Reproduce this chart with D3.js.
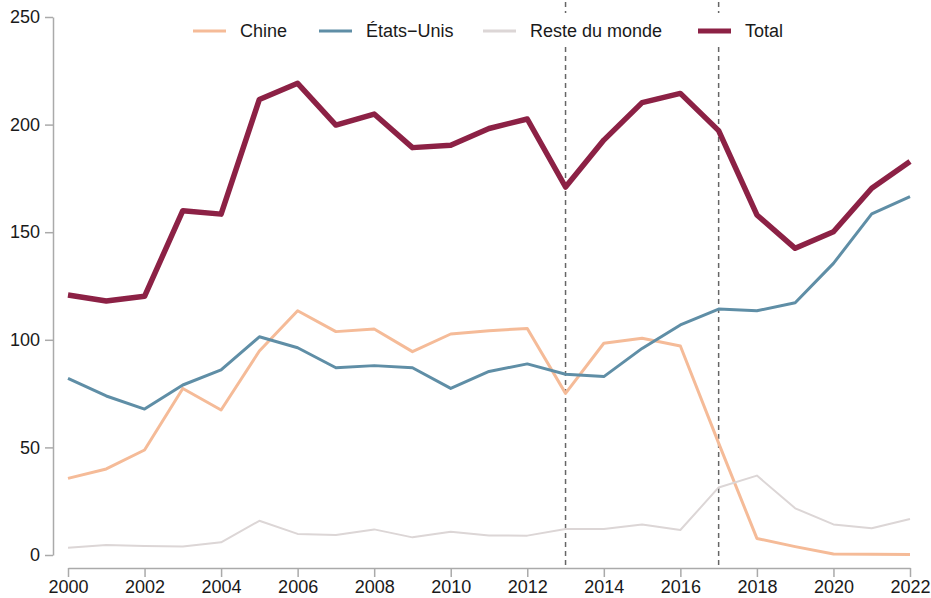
<!DOCTYPE html>
<html>
<head>
<meta charset="utf-8">
<script src="https://cdn.jsdelivr.net/npm/d3@7"></script>
<style>
  body { margin: 0; background: #fff; }
  text { font-family: "Liberation Sans", Arial, sans-serif; fill: #1a1a1a; }
</style>
</head>
<body>
<div class="chart"></div>
<script>
const years = d3.range(2000, 2023);
const chine = [35.6, 40, 48.8, 77.4, 67.4, 94.8, 113.5, 103.8, 105, 94.5, 102.7, 104.2, 105.3, 75.1, 98.4, 100.7, 97.1, 52, 7.7, 3.9, 0.5, 0.3, 0.2];
const etatsUnis = [82.1, 73.9, 67.8, 79, 86, 101.4, 96.3, 87, 88, 87, 77.4, 85.3, 88.8, 84, 82.9, 96, 106.9, 114.3, 113.5, 117.2, 135.5, 158.5, 166.5];
const reste = [3.4, 4.6, 4.2, 3.9, 5.9, 15.9, 9.8, 9.3, 11.9, 8.2, 10.8, 9.1, 9, 12.1, 12.1, 14.2, 11.6, 31.4, 36.9, 21.7, 14.2, 12.4, 16.7];
const total = [120.8, 118, 120.2, 160, 158.4, 211.7, 219.2, 199.8, 204.9, 189.3, 190.4, 198.2, 202.6, 171, 192.8, 210.2, 214.5, 197.2, 158, 142.5, 150.2, 170.4, 182.8];
const markerYears = [2013, 2017];
const yTicks = [0, 50, 100, 150, 200, 250];
const xTicks = d3.range(2000, 2023, 2);

const series = [
  { name: 'Chine', values: chine, color: '#f5bb98', width: 3 },
  { name: 'États\u2212Unis', values: etatsUnis, color: '#5f8ea6', width: 3 },
  { name: 'Reste du monde', values: reste, color: '#dcd6d6', width: 2 },
  { name: 'Total', values: total, color: '#8c2145', width: 5.5 }
];

const w = 931;
const h = 598;

const x = d3.scaleLinear().domain([2000, 2022]).range([68, 910]);
const y = d3.scaleLinear().domain([0, 250]).range([555, 17]);

const svg = d3.select('.chart')
  .append('svg')
  .attr('width', w)
  .attr('height', h);

// dashed markers
svg.selectAll('.marker')
  .data(markerYears)
  .enter()
  .append('line')
  .attr('class', 'marker')
  .attr('x1', (d) => x(d))
  .attr('x2', (d) => x(d))
  .attr('y1', 2)
  .attr('y2', 566)
  .attr('stroke', '#666')
  .attr('stroke-width', 1.5)
  .attr('stroke-dasharray', '5,4');

const line = d3.line()
  .x((d, i) => x(years[i]))
  .y((d) => y(d));

svg.selectAll('.series')
  .data(series)
  .enter()
  .append('path')
  .attr('class', 'series')
  .attr('d', (s) => line(s.values))
  .attr('fill', 'none')
  .attr('stroke', (s) => s.color)
  .attr('stroke-width', (s) => s.width)
  .attr('stroke-linejoin', 'round');

// axes
const xAxis = svg.append('g')
  .attr('transform', 'translate(0, 568)')
  .call(d3.axisBottom(x).tickValues(xTicks).tickFormat(d3.format('d')).tickSize(9).tickSizeOuter(0));

const yAxis = svg.append('g')
  .attr('transform', 'translate(53, 0)')
  .call(d3.axisLeft(y).tickValues(yTicks).tickSize(8).tickSizeOuter(0));

[xAxis, yAxis].forEach((g) => {
  g.select('.domain').attr('stroke', '#aaa').attr('stroke-width', 1.5);
  g.selectAll('.tick line').attr('stroke', '#aaa').attr('stroke-width', 1.5);
  g.selectAll('.tick text')
    .attr('font-family', '"Liberation Sans", Arial, sans-serif')
    .attr('font-size', 18)
    .attr('fill', '#1a1a1a');
});
xAxis.selectAll('.tick text').attr('y', 10).attr('dy', '0.85em');
yAxis.selectAll('.tick text').attr('x', -13);

// legend
const legend = svg.append('g').attr('class', 'legend');
legend.append('rect')
  .attr('x', 185)
  .attr('y', 13)
  .attr('width', 610)
  .attr('height', 34)
  .attr('fill', '#fff');

const legendX = [193, 319, 483, 698];
const item = legend.selectAll('.item')
  .data(series)
  .enter()
  .append('g')
  .attr('transform', (d, i) => `translate(${legendX[i]}, 31)`);

item.append('line')
  .attr('x1', 0)
  .attr('x2', 33)
  .attr('stroke', (d) => d.color)
  .attr('stroke-width', (d) => d.width === 5.5 ? 5 : 3);

item.append('text')
  .attr('x', 47)
  .attr('dy', '0.35em')
  .style('font-size', '18px')
  .text((d) => d.name);
</script>
</body>
</html>
